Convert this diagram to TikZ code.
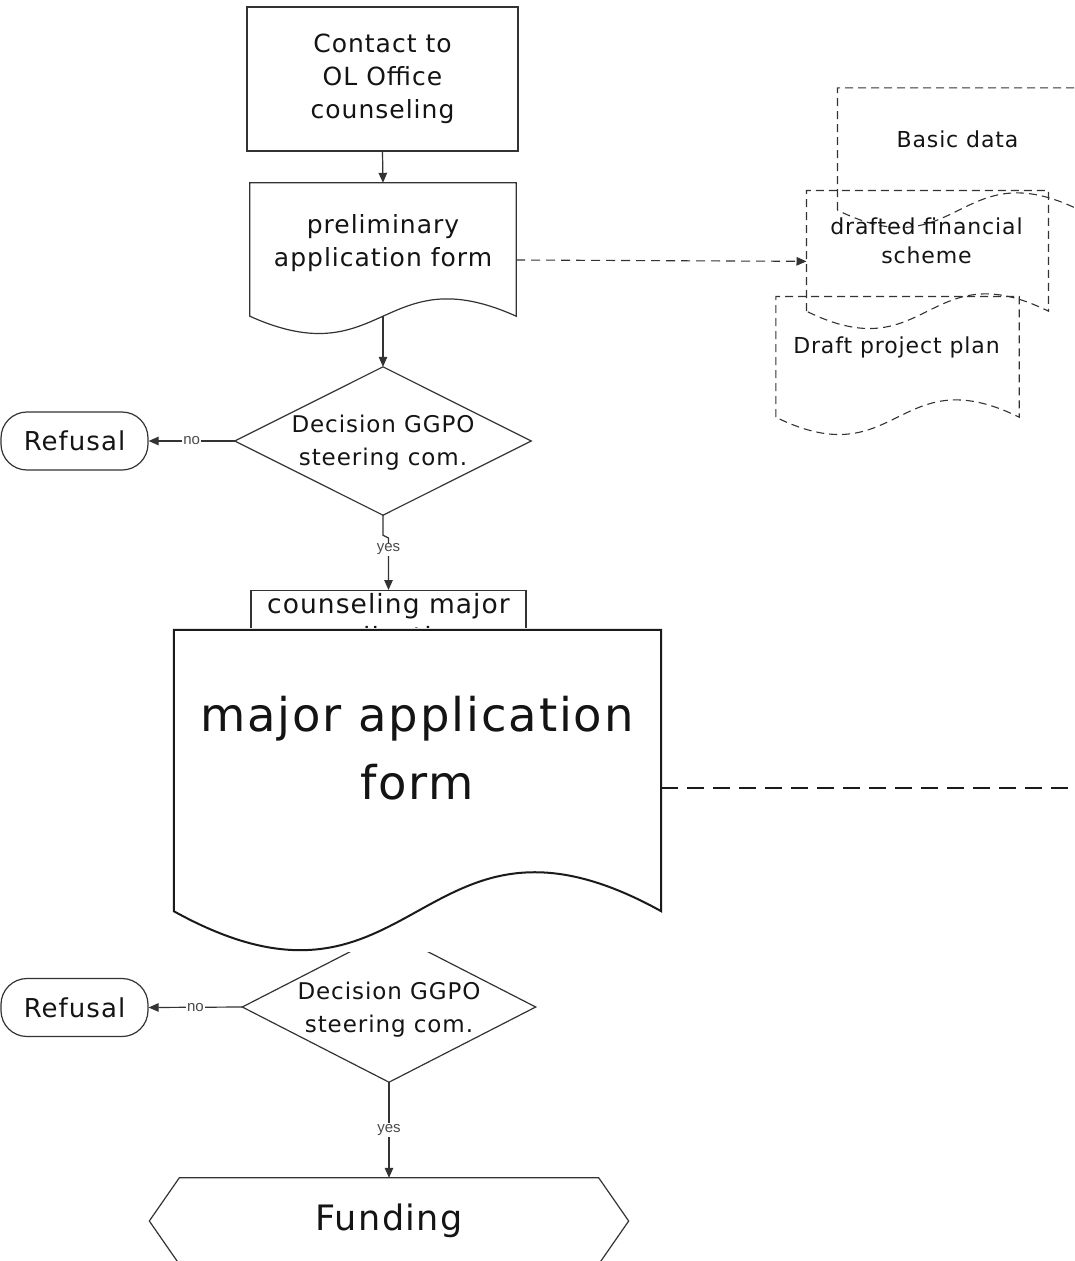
\documentclass[tikz,border=0pt]{standalone}
\usepackage{fontspec}
\setmainfont{DejaVu Sans}[LetterSpace=4]
\newfontfamily\lblfont{Liberation Sans}
\usetikzlibrary{arrows.meta,calc}
\definecolor{ln}{HTML}{333333}
\definecolor{tx}{HTML}{141414}
\definecolor{lb}{HTML}{4A4A4A}
\definecolor{bigln}{HTML}{1A1A1A}
\newcommand\docpath[3]{%
  \path[#1] (#2.south west) -- (#2.north west) -- (#2.north east) -- (#2.south east)
    .. controls ($(#2.south)+(0,-#3)$) and ($(#2.south)+(0,#3)$) .. (#2.south west) -- cycle;}
\begin{document}
\begin{tikzpicture}[x=1pt,y=-1pt,
  every node/.style={inner sep=0pt,text=tx},
  holder/.style={draw=none,inner sep=0pt,minimum width=#1},
  frame/.style={draw=ln,line width=1.2pt},
  dashdoc/.style={draw=ln,line width=1.1pt,dash pattern=on 8pt off 5pt},
  bigframe/.style={draw=bigln,line width=2pt,fill=white},
  arr/.style={draw=ln,line width=1.2pt,-{Triangle[length=10pt,width=8.5pt]}},
  dasharr/.style={draw=ln,line width=1.1pt,dash pattern=on 9pt off 6pt,-{Triangle[length=10pt,width=8.5pt]}},
  bigdash/.style={draw=bigln,line width=2pt,dash pattern=on 17pt off 9pt},
  lbl/.style={font=\lblfont\fontsize{15}{15}\selectfont,text=lb,fill=white,inner sep=1pt},
  tbig/.style={font=\fontsize{25}{33}\selectfont,align=center},
  tdec/.style={font=\fontsize{23}{33}\selectfont,align=center},
  tsml/.style={font=\fontsize{22}{29}\selectfont,align=center},
  tref/.style={font=\fontsize{26}{30}\selectfont}
]
\useasboundingbox (0,0) rectangle (1075,1261);
\clip (0,0) rectangle (1075,1261);

% ---------- top box ----------
\node[frame,fill=white,minimum width=271pt,minimum height=144pt,tbig] (top) at (382.5,79) {Contact to\\OL Office\\counseling};

% ---------- preliminary application form ----------
\node[holder=266pt,minimum height=133pt] (prelim) at (383,249.5) {};
\docpath{frame,fill=white}{prelim}{60}
\node[tbig] (prelimtxt) at (383,243) {preliminary\\application form};

% ---------- dashed documents ----------
\node[holder=242pt,minimum height=122pt] (basic) at (958.7,149) {};
\docpath{dashdoc}{basic}{60}
\node[tsml] (basictxt) at (957.5,139) {Basic data};

\node[holder=241.6pt,minimum height=120.3pt] (drafted) at (927.5,250.85) {};
\docpath{dashdoc}{drafted}{60}
\node[tsml] (draftedtxt) at (926.5,241.2) {drafted financial\\scheme};

\node[holder=243pt,minimum height=120.3pt] (plan) at (897.5,356.85) {};
\docpath{dashdoc}{plan}{60}
\node[tsml] (plantxt) at (896.5,347.5) {Draft project plan};

% ---------- decision 1 ----------
\node[holder=296pt,minimum height=148pt] (d1) at (383,441) {};
\draw[frame] (d1.north) -- (d1.east) -- (d1.south) -- (d1.west) -- cycle;
\node[tdec] (d1txt) at (383,443) {Decision GGPO\\steering com.};

\node[frame,rounded corners=26pt,minimum width=147pt,minimum height=58pt,tref] (ref1) at (74.5,441) {Refusal};

% ---------- decision 2 (partly hidden) ----------
\node[holder=293pt,minimum height=150pt] (d2) at (389,1007) {};
\draw[frame] (d2.north) -- (d2.east) -- (d2.south) -- (d2.west) -- cycle;
\node[tdec] (d2txt) at (389,1009.5) {Decision GGPO\\steering com.};

\node[frame,rounded corners=26pt,minimum width=147pt,minimum height=58pt,tref] (ref2) at (74.5,1007.5) {Refusal};

% ---------- counseling major application (hidden by big form) ----------
\node[frame,fill=white,anchor=north,minimum width=275pt,inner xsep=0pt,inner ysep=3pt,
  font=\fontsize{26.5}{33}\selectfont,align=center] (counsel) at (388.5,590) {counseling major\\application};

% ---------- major application form ----------
\fill[white] (172,628) rectangle (664,952);
\node[holder=487pt,minimum height=281pt] (bigdoc) at (417.5,770.5) {};
\docpath{bigframe}{bigdoc}{135}
\node[font=\fontsize{46.5}{68}\selectfont,align=center] (bigtxt) at (417,748.4) {major application\\form};

% ---------- funding ----------
\node[holder=479pt,minimum height=86pt,font=\fontsize{35}{40}\selectfont] (fund) at (389,1221) {Funding};
\draw[frame] ([xshift=30pt]fund.north west) -- ([xshift=-30pt]fund.north east) -- (fund.east)
  -- ([xshift=-30pt]fund.south east) -- ([xshift=30pt]fund.south west) -- (fund.west) -- cycle;

% ---------- connectors ----------
\draw[arr] (top.south) -- (prelim.north);
\draw[arr] (prelim.south) -- (d1.north);
\draw[arr] (d1.west) -- (ref1.east) node[lbl,midway] {no};
\draw[arr] (d1.south) -- ++(0,20) -- ($(counsel.north)+(0,-52)$) -- (counsel.north)
  node[lbl,pos=0.22] {yes};
\draw[dasharr] ([yshift=-10.5pt]prelim.east) -- ([yshift=-10.5pt]drafted.west);
\coordinate (bigout) at (1085,788);
\draw[bigdash] (bigdoc.east |- bigout) -- (bigout);
\draw[arr] (d2.west) -- (ref2.east) node[lbl,midway] {no};
\draw[arr] (d2.south) -- (fund.north) node[lbl,midway] {yes};
\end{tikzpicture}
\end{document}
